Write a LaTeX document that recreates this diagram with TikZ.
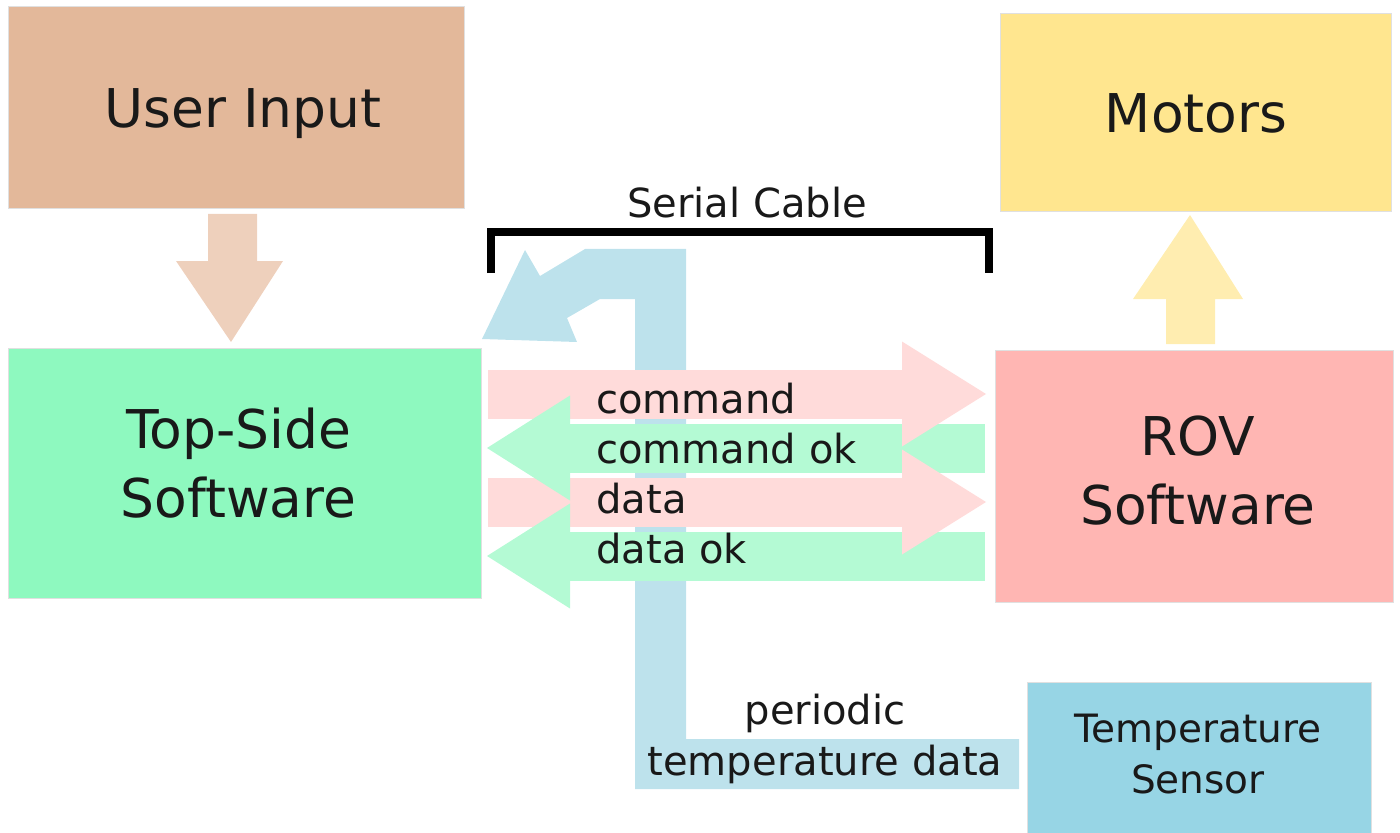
\documentclass[tikz,border=0pt]{standalone}
\usepackage{fontspec}
\setmainfont{DejaVu Sans}

\newlength{\du}
\setlength{\du}{10mm}

\definecolor{userfill}{rgb}{0.890, 0.722, 0.604}
\definecolor{userarrow}{rgb}{0.933, 0.816, 0.737}
\definecolor{motorfill}{rgb}{1.000, 0.902, 0.561}
\definecolor{motorarrow}{rgb}{1.000, 0.929, 0.690}
\definecolor{topfill}{rgb}{0.557, 0.976, 0.749}
\definecolor{rovfill}{rgb}{1.000, 0.714, 0.702}
\definecolor{sensorfill}{rgb}{0.592, 0.835, 0.898}
\definecolor{tempband}{rgb}{0.741, 0.886, 0.925}
\definecolor{cmdfill}{rgb}{1.000, 0.859, 0.855}
\definecolor{okfill}{rgb}{0.706, 0.980, 0.831}
\definecolor{textcolor}{rgb}{0.100, 0.100, 0.100}

\tikzset{
  boxline/.style={draw=black!12, line width=0.02\du},
  bigtext/.style={anchor=base, align=center, inner sep=0pt, text=textcolor,
    font=\fontsize{30.4pt}{38.7pt}\selectfont},
  smalltext/.style={anchor=base, align=center, inner sep=0pt, text=textcolor,
    font=\fontsize{22.8pt}{28.5pt}\selectfont},
  msgtext/.style={anchor=base west, inner sep=0pt, text=textcolor,
    font=\fontsize{22.8pt}{28.5pt}\selectfont},
}

\begin{document}
\begin{tikzpicture}
\pgftransformxscale{1.000000}
\pgftransformyscale{-1.000000}
\useasboundingbox (0\du,0\du) rectangle (28\du,16.66\du);
% boxes
\fill[userfill,boxline] (0.16\du,0.14\du)--(0.16\du,4.18\du)--(9.28\du,4.18\du)--(9.28\du,0.14\du)--cycle;
\fill[motorfill,boxline] (20.00\du,0.28\du)--(20.00\du,4.24\du)--(27.82\du,4.24\du)--(27.82\du,0.28\du)--cycle;
\fill[topfill,boxline] (0.16\du,6.96\du)--(0.16\du,11.96\du)--(9.62\du,11.96\du)--(9.62\du,6.96\du)--cycle;
\fill[rovfill,boxline] (19.90\du,7.00\du)--(19.90\du,12.04\du)--(27.86\du,12.04\du)--(27.86\du,7.00\du)--cycle;
\fill[sensorfill,boxline] (20.54\du,13.64\du)--(20.54\du,16.70\du)--(27.42\du,16.70\du)--(27.42\du,13.64\du)--cycle;
% block arrows to and from the boxes
\fill[userarrow] (4.16\du,4.28\du)--(4.16\du,5.22\du)--(3.52\du,5.22\du)--(4.62\du,6.84\du)--(5.66\du,5.22\du)--(5.14\du,5.22\du)--(5.14\du,4.28\du)--cycle;
\fill[motorarrow] (23.32\du,6.88\du)--(23.32\du,5.98\du)--(22.66\du,5.98\du)--(23.80\du,4.30\du)--(24.86\du,5.98\du)--(24.30\du,5.98\du)--(24.30\du,6.88\du)--cycle;
% temperature data path
\fill[tempband] (20.38\du,14.78\du)--(13.72\du,14.78\du)--(13.72\du,4.98\du)--(11.70\du,4.98\du)--(10.80\du,5.52\du)--(10.50\du,5.00\du)--(9.64\du,6.78\du)--(11.54\du,6.84\du)--(11.34\du,6.36\du)--(12.00\du,5.98\du)--(12.70\du,5.98\du)--(12.70\du,15.78\du)--(20.38\du,15.78\du)--cycle;
% serial cable bracket
\draw[line width=0.15\du] (9.82\du,5.46\du)--(9.82\du,4.64\du)--(19.78\du,4.64\du)--(19.78\du,5.46\du);
% message shafts
\fill[cmdfill] (9.76\du,7.39\du)--(9.76\du,8.37\du)--(18.10\du,8.37\du)--(18.10\du,7.39\du)--cycle;
\fill[okfill] (11.34\du,8.47\du)--(11.34\du,9.45\du)--(19.70\du,9.45\du)--(19.70\du,8.47\du)--cycle;
\fill[cmdfill] (9.76\du,9.55\du)--(9.76\du,10.53\du)--(18.10\du,10.53\du)--(18.10\du,9.55\du)--cycle;
\fill[okfill] (11.34\du,10.63\du)--(11.34\du,11.61\du)--(19.70\du,11.61\du)--(19.70\du,10.63\du)--cycle;
% message heads
\fill[cmdfill] (18.04\du,6.83\du)--(19.72\du,7.88\du)--(18.04\du,8.93\du)--cycle;
\fill[okfill] (11.40\du,7.91\du)--(9.74\du,8.96\du)--(11.40\du,10.01\du)--cycle;
\fill[cmdfill] (18.04\du,8.99\du)--(19.72\du,10.04\du)--(18.04\du,11.09\du)--cycle;
\fill[okfill] (11.40\du,10.07\du)--(9.74\du,11.12\du)--(11.40\du,12.17\du)--cycle;
% labels (two-line nodes sit on their last baseline)
\node[bigtext] (userinput) at (4.86\du,2.56\du){User Input};
\node[bigtext] (motors) at (23.92\du,2.66\du){Motors};
\node[bigtext] (topside) at (4.77\du,10.34\du){Top-Side\\Software};
\node[bigtext] (rov) at (23.96\du,10.48\du){ROV\\Software};
\node[smalltext,font=\fontsize{22.2pt}{29pt}\selectfont] (sensor) at (23.96\du,15.86\du){Temperature\\Sensor};
\node[smalltext] (cable) at (14.94\du,4.36\du){Serial Cable};
\node[smalltext] (tempdata) at (16.50\du,15.50\du){periodic\\temperature data};
\node[msgtext] (command) at (11.92\du,8.26\du){command};
\node[msgtext] (commandok) at (11.92\du,9.26\du){command ok};
\node[msgtext] (data) at (11.92\du,10.26\du){data};
\node[msgtext] (dataok) at (11.92\du,11.26\du){data ok};
\end{tikzpicture}
\end{document}
